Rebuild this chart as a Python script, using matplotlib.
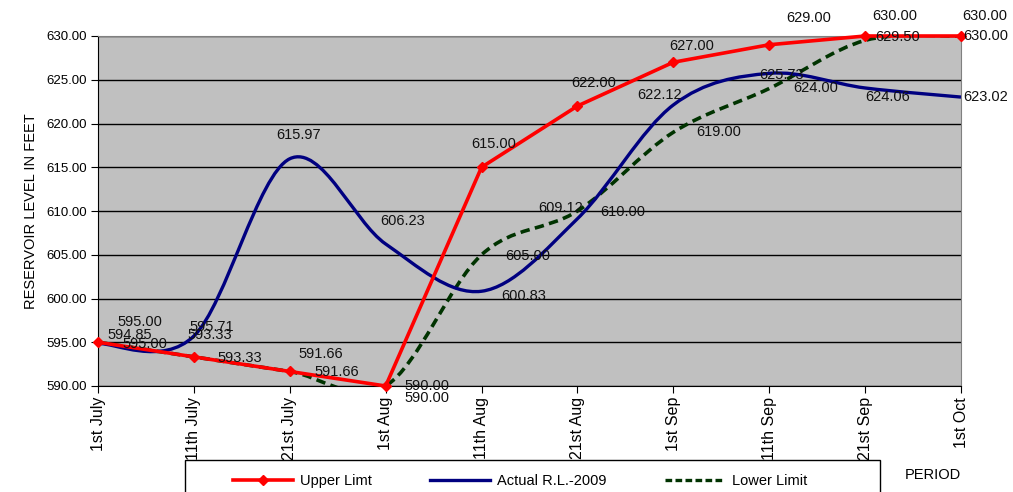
import matplotlib
matplotlib.use("Agg")
import matplotlib.pyplot as plt
from matplotlib.path import Path
from matplotlib.patches import PathPatch, Rectangle
from matplotlib.lines import Line2D
import numpy as np

plt.rcParams['font.family'] = ['Liberation Sans', 'DejaVu Sans']

categories = ["1st July", "11th July", "21st July", "1st Aug", "11th Aug",
              "21st Aug", "1st Sep", "11th Sep", "21st Sep", "1st Oct"]
upper_limit = [595.00, 593.33, 591.66, 590.00, 615.00, 622.00, 627.00, 629.00, 630.00, 630.00]
actual_2009 = [594.85, 595.71, 615.97, 606.23, 600.83, 609.12, 622.12, 625.73, 624.06, 623.02]
lower_limit = [595.00, 593.33, 591.66, 590.00, 605.00, 610.00, 619.00, 624.00, 629.50, 630.00]
y_ticks = [590, 595, 600, 605, 610, 615, 620, 625, 630]

# label offsets in pixels (layout only)
upper_off = [(42, -20), (16, -22), (31, -17), (41, 0), (12, -23), (16, -23), (18, -16), (39, -27), (30, -20), (24, -20)]
actual_off = [(32, -9), (18, -9), (9, -24), (17, -23), (42, 5), (-17, -11), (-14, -10), (12, 2), (23, 9), (25, 0)]
lower_off = [(47, 2), (46, 1), (47, 1), (41, 12), (46, 1), (45, 1), (45, 0), (46, 0), (33, -3), (25, 0)]

W, H = 1013, 492
fig = plt.figure(figsize=(W / 100, H / 100), dpi=100)
ax = fig.add_axes([98 / W, (H - 386) / H, (961 - 98) / W, (386 - 36) / H])
ax.set_facecolor("#C0C0C0")

x = np.arange(len(categories))


def smooth_path(xs, ys):
    pts = np.column_stack([xs, ys]).astype(float)
    n = len(pts)
    verts = [pts[0]]
    codes = [Path.MOVETO]
    for i in range(n - 1):
        p0 = pts[i - 1] if i > 0 else pts[i]
        p1 = pts[i]
        p2 = pts[i + 1]
        p3 = pts[i + 2] if i + 2 < n else pts[i + 1]
        c1 = p1 + (p2 - p0) / 6.0
        c2 = p2 - (p3 - p1) / 6.0
        verts += [c1, c2, p2]
        codes += [Path.CURVE4] * 3
    return Path(verts, codes)


ax.set_xlim(0, len(categories) - 1)
ax.set_ylim(590, 630)
ax.set_yticks(y_ticks)
ax.set_yticklabels([f"{v:.2f}" for v in y_ticks], fontsize=9.5)
ax.set_xticks(x)
ax.set_xticklabels(categories, rotation=90, fontsize=11.5, va="top")
ax.tick_params(axis="both", direction="out", length=5, color="black", pad=3)
ax.yaxis.grid(True, color="black", linewidth=1)
ax.set_axisbelow(True)
for side in ["left", "bottom"]:
    ax.spines[side].set_color("black")
for side in ["top", "right"]:
    ax.spines[side].set_color("#808080")

ax.set_ylabel("RESERVOIR LEVEL IN FEET", fontsize=10.5, labelpad=6)

# lower limit (smoothed, dashed)
ax.add_patch(PathPatch(smooth_path(x, lower_limit), facecolor="none", edgecolor="#003300",
                       linewidth=2.6, linestyle=(0, (2.6, 1.5)), zorder=3))
# actual (smoothed)
ax.add_patch(PathPatch(smooth_path(x, actual_2009), facecolor="none", edgecolor="#000080",
                       linewidth=2.4, zorder=4))
# upper limit (straight, diamond markers)
ax.plot(x, upper_limit, color="#FF0000", linewidth=2.6, marker="D", markersize=5,
        zorder=5, clip_on=False)

for series, offs in [(upper_limit, upper_off), (actual_2009, actual_off), (lower_limit, lower_off)]:
    for xi, v, (dx, dy) in zip(x, series, offs):
        ax.annotate(f"{v:.2f}", (xi, v), xytext=(dx, -dy), textcoords="offset pixels",
                    ha="center", va="center", fontsize=10.5, color="#111111",
                    annotation_clip=False, zorder=6)

# legend box (bottom cut off by figure edge, as in the reference)
box = Rectangle((185 / W, -20 / H), (880 - 185) / W, 50 / H + 2 / H, transform=fig.transFigure,
                facecolor="white", edgecolor="black", linewidth=1, zorder=9)
fig.patches.append(box)

handles = [
    Line2D([], [], color="#FF0000", linewidth=2.6, marker="D", markersize=5),
    Line2D([], [], color="#000080", linewidth=2.4),
    Line2D([], [], color="#003300", linewidth=2.4, linestyle=(0, (2, 1))),
]
leg = fig.legend(handles, ["Upper Limt", "Actual R.L.-2009", "Lower Limit"],
                 loc="center left", ncol=3,
                 bbox_to_anchor=(233 / W, 1 - 481 / H),
                 frameon=False, fontsize=10.5, handlelength=4.1, handletextpad=0.5,
                 columnspacing=4.0, borderaxespad=0, borderpad=0)
leg.set_zorder(10)

fig.text(905 / W, 1 - 475 / H, "PERIOD", fontsize=10.5, va="center", ha="left")

fig.savefig("out.png", dpi=100)
